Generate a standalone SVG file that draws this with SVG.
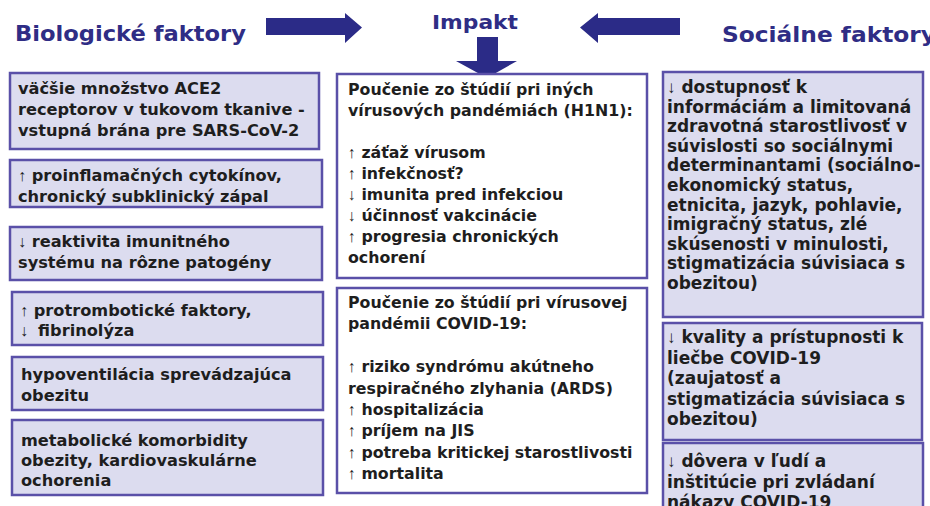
<svg xmlns="http://www.w3.org/2000/svg" width="930" height="506" viewBox="0 0 930 506">
<style>
.hd{font-family:"DejaVu Sans","Liberation Sans",sans-serif;font-weight:bold;fill:#2f2d85}
.box{fill:#dcdcef;stroke:#5a50a8;stroke-width:2.5}
.wbox{fill:#ffffff;stroke:#5a50a8;stroke-width:2.5}
.t{font-family:"DejaVu Sans","Liberation Sans",sans-serif;font-weight:bold;fill:#1e1e1e;font-size:15.8px}
.tl{font-size:16.2px}
.tr{font-size:17px}
.ar{font-family:"Liberation Sans",sans-serif;font-weight:normal}
.arrow{fill:#2b2b87}
</style>
<rect width="930" height="506" fill="#ffffff"/>
<g id="header-bio"><text class="hd" x="15" y="41" font-size="21" textLength="231" lengthAdjust="spacingAndGlyphs">Biologické faktory</text></g>
<g id="header-impakt"><text class="hd" x="432" y="29" font-size="19" textLength="86" lengthAdjust="spacingAndGlyphs">Impakt</text></g>
<g id="header-soc"><text class="hd" x="722" y="42" font-size="21" textLength="214" lengthAdjust="spacingAndGlyphs">Sociálne faktory</text></g>
<g id="connectors">
<polygon class="arrow" points="266,18 345,18 345,13 362,27.5 345,43 345,35 266,35"/>
<polygon class="arrow" points="680,18 598,18 598,13 580,27.5 598,43 598,35 680,35"/>
<polygon class="arrow" points="477,37 498,37 498,61 517,61 487,78 456,61 477,61"/>
</g>
<g id="bio1"><rect class="box" x="10" y="73" width="309" height="76"/>
<text class="t tl"><tspan x="18" y="94">väčšie množstvo ACE2</tspan><tspan x="18" y="115">receptorov v tukovom tkanive -</tspan><tspan x="18" y="136">vstupná brána pre SARS-CoV-2</tspan></text></g>
<g id="bio2"><rect class="box" x="10" y="160" width="312" height="47"/>
<text class="t tl"><tspan x="18" y="181"><tspan class="ar">↑</tspan> proinflamačných cytokínov,</tspan><tspan x="18" y="202">chronický subklinický zápal</tspan></text></g>
<g id="bio3"><rect class="box" x="10" y="227" width="312" height="53"/>
<text class="t tl"><tspan x="18" y="247"><tspan class="ar">↓</tspan> reaktivita imunitného</tspan><tspan x="18" y="268">systému na rôzne patogény</tspan></text></g>
<g id="bio4"><rect class="box" x="12" y="292" width="311" height="53"/>
<text class="t tl"><tspan x="20" y="316"><tspan class="ar">↑</tspan> protrombotické faktory,</tspan><tspan x="20" y="336"><tspan class="ar">↓</tspan></tspan><tspan dx="10">fibrinolýza</tspan></text></g>
<g id="bio5"><rect class="box" x="12" y="357" width="311" height="53"/>
<text class="t tl"><tspan x="21" y="380">hypoventilácia sprevádzajúca</tspan><tspan x="21" y="401">obezitu</tspan></text></g>
<g id="bio6"><rect class="box" x="12" y="420" width="311" height="75"/>
<text class="t tl"><tspan x="21" y="446">metabolické komorbidity</tspan><tspan x="21" y="466">obezity, kardiovaskulárne</tspan><tspan x="21" y="486">ochorenia</tspan></text></g>
<g id="impact1"><rect class="wbox" x="337" y="74" width="310" height="204"/>
<text class="t"><tspan x="348" y="95">Poučenie zo štúdií pri iných</tspan><tspan x="348" y="116">vírusových pandémiách (H1N1):</tspan><tspan x="348" y="158"><tspan class="ar">↑</tspan> záťaž vírusom</tspan><tspan x="348" y="179"><tspan class="ar">↑</tspan> infekčnosť?</tspan><tspan x="348" y="200"><tspan class="ar">↓</tspan> imunita pred infekciou</tspan><tspan x="348" y="221"><tspan class="ar">↓</tspan> účinnosť vakcinácie</tspan><tspan x="348" y="242"><tspan class="ar">↑</tspan> progresia chronických</tspan><tspan x="348" y="263">ochorení</tspan></text></g>
<g id="impact2"><rect class="wbox" x="337" y="288" width="310" height="205"/>
<text class="t"><tspan x="348" y="308">Poučenie zo štúdií pri vírusovej</tspan><tspan x="348" y="329">pandémii COVID-19:</tspan><tspan x="348" y="372"><tspan class="ar">↑</tspan> riziko syndrómu akútneho</tspan><tspan x="348" y="394">respiračného zlyhania (ARDS)</tspan><tspan x="348" y="415"><tspan class="ar">↑</tspan> hospitalizácia</tspan><tspan x="348" y="436"><tspan class="ar">↑</tspan> príjem na JIS</tspan><tspan x="348" y="458"><tspan class="ar">↑</tspan> potreba kritickej starostlivosti</tspan><tspan x="348" y="479"><tspan class="ar">↑</tspan> mortalita</tspan></text></g>
<g id="soc1"><rect class="box" x="663" y="72" width="260" height="245"/>
<text class="t tr"><tspan x="667" y="93"><tspan class="ar">↓</tspan> dostupnosť k</tspan><tspan x="667" y="112.6">informáciám a limitovaná</tspan><tspan x="667" y="132.2">zdravotná starostlivosť v</tspan><tspan x="667" y="151.8">súvislosti so sociálnymi</tspan><tspan x="667" y="171.4">determinantami (sociálno-</tspan><tspan x="667" y="191">ekonomický status,</tspan><tspan x="667" y="210.6">etnicita, jazyk, pohlavie,</tspan><tspan x="667" y="230.2">imigračný status, zlé</tspan><tspan x="667" y="249.8">skúsenosti v minulosti,</tspan><tspan x="667" y="269.4">stigmatizácia súvisiaca s</tspan><tspan x="667" y="289">obezitou)</tspan></text></g>
<g id="soc2"><rect class="box" x="663" y="323" width="259" height="117"/>
<text class="t tr"><tspan x="667" y="343"><tspan class="ar">↓</tspan> kvality a prístupnosti k</tspan><tspan x="667" y="363.5">liečbe COVID-19</tspan><tspan x="667" y="384">(zaujatosť a</tspan><tspan x="667" y="404.5">stigmatizácia súvisiaca s</tspan><tspan x="667" y="425">obezitou)</tspan></text></g>
<g id="soc3"><rect class="box" x="663" y="443" width="260" height="80"/>
<text class="t tr"><tspan x="667" y="467"><tspan class="ar">↓</tspan> dôvera v ľudí a</tspan><tspan x="667" y="487.5">inštitúcie pri zvládaní</tspan><tspan x="667" y="508">nákazy COVID-19</tspan></text></g>
</svg>
